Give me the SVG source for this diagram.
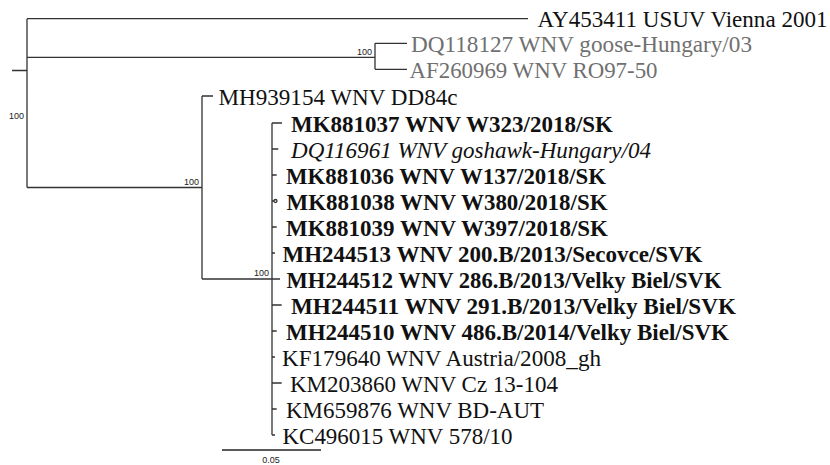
<svg xmlns="http://www.w3.org/2000/svg" width="830" height="465" viewBox="0 0 830 465">
<style>
.br{stroke:#333;stroke-width:1.3;fill:none}
.lv{font-family:'Liberation Serif','Times New Roman',Times,'DejaVu Serif','Noto Serif',serif;font-size:23px;fill:#111}
.b{font-weight:bold}
.i{font-style:italic}
.g{fill:#707070}
.bs{font-family:'Liberation Sans',Arial,sans-serif;font-size:9px;fill:#222}
</style>
<rect width="830" height="465" fill="#fff"/>
<g id="connectors" class="br">
<path d="M12,70.5H27M27,18.7V187.5M27,18.7H528M27,57.3H375M375,43.3V69.3M375,43.3H407M375,69.3H407M27,187.5H202M202,96V279M202,96H213M202,279H272M272,123V435"/>
<path d="M272,123H282M272,149H278.3M272,175H276.7M272,201H274M272,227H276.7M272,253H275M272,279H280M272,305H281.7M272,331H276.7M272,357H275M272,383H281.7M272,409H276.7M272,435H275"/>
<circle cx="275.5" cy="201" r="1.5"/>
</g>
<g id="bootstrap">
<text class="bs" x="24" y="119" text-anchor="end">100</text>
<text class="bs" x="372" y="55" text-anchor="end">100</text>
<text class="bs" x="199" y="185" text-anchor="end">100</text>
<text class="bs" x="269" y="276" text-anchor="end">100</text>
</g>
<g id="leaves" class="lv">
<g id="n-AY453411"><text x="537.5" y="27" textLength="290" lengthAdjust="spacingAndGlyphs">AY453411 USUV Vienna 2001</text></g>
<g id="n-DQ118127"><text class="g" x="411" y="51.5" textLength="341" lengthAdjust="spacingAndGlyphs">DQ118127 WNV goose-Hungary/03</text></g>
<g id="n-AF260969"><text class="g" x="409.5" y="77.5" textLength="248" lengthAdjust="spacingAndGlyphs">AF260969 WNV RO97-50</text></g>
<g id="n-MH939154"><text x="218.5" y="104.5" textLength="239" lengthAdjust="spacingAndGlyphs">MH939154 WNV DD84c</text></g>
<g id="n-MK881037"><text class="b" x="291" y="131.5" textLength="322" lengthAdjust="spacingAndGlyphs">MK881037 WNV W323/2018/SK</text></g>
<g id="n-DQ116961"><text class="i" x="291" y="157.5" textLength="360" lengthAdjust="spacingAndGlyphs">DQ116961 WNV goshawk-Hungary/04</text></g>
<g id="n-MK881036"><text class="b" x="286" y="183.5" textLength="320" lengthAdjust="spacingAndGlyphs">MK881036 WNV W137/2018/SK</text></g>
<g id="n-MK881038"><text class="b" x="286.5" y="209.5" textLength="321" lengthAdjust="spacingAndGlyphs">MK881038 WNV W380/2018/SK</text></g>
<g id="n-MK881039"><text class="b" x="286" y="235.5" textLength="322" lengthAdjust="spacingAndGlyphs">MK881039 WNV W397/2018/SK</text></g>
<g id="n-MH244513"><text class="b" x="282.5" y="261.5" textLength="420" lengthAdjust="spacingAndGlyphs">MH244513 WNV 200.B/2013/Secovce/SVK</text></g>
<g id="n-MH244512"><text class="b" x="286.5" y="287.5" textLength="435" lengthAdjust="spacingAndGlyphs">MH244512 WNV 286.B/2013/Velky Biel/SVK</text></g>
<g id="n-MH244511"><text class="b" x="291" y="313.5" textLength="445" lengthAdjust="spacingAndGlyphs">MH244511 WNV 291.B/2013/Velky Biel/SVK</text></g>
<g id="n-MH244510"><text class="b" x="286" y="339.5" textLength="443" lengthAdjust="spacingAndGlyphs">MH244510 WNV 486.B/2014/Velky Biel/SVK</text></g>
<g id="n-KF179640"><text x="282" y="365.5" textLength="319" lengthAdjust="spacingAndGlyphs">KF179640 WNV Austria/2008_gh</text></g>
<g id="n-KM203860"><text x="290" y="391.5" textLength="268" lengthAdjust="spacingAndGlyphs">KM203860 WNV Cz 13-104</text></g>
<g id="n-KM659876"><text x="286" y="417.5" textLength="258" lengthAdjust="spacingAndGlyphs">KM659876 WNV BD-AUT</text></g>
<g id="n-KC496015"><text x="282.5" y="443.5" textLength="230" lengthAdjust="spacingAndGlyphs">KC496015 WNV 578/10</text></g>
</g>
<g id="scale">
<path d="M222,450H321" stroke="#222" stroke-width="1.6"/>
<text class="bs" x="271" y="463" text-anchor="middle">0.05</text>
</g>
</svg>
